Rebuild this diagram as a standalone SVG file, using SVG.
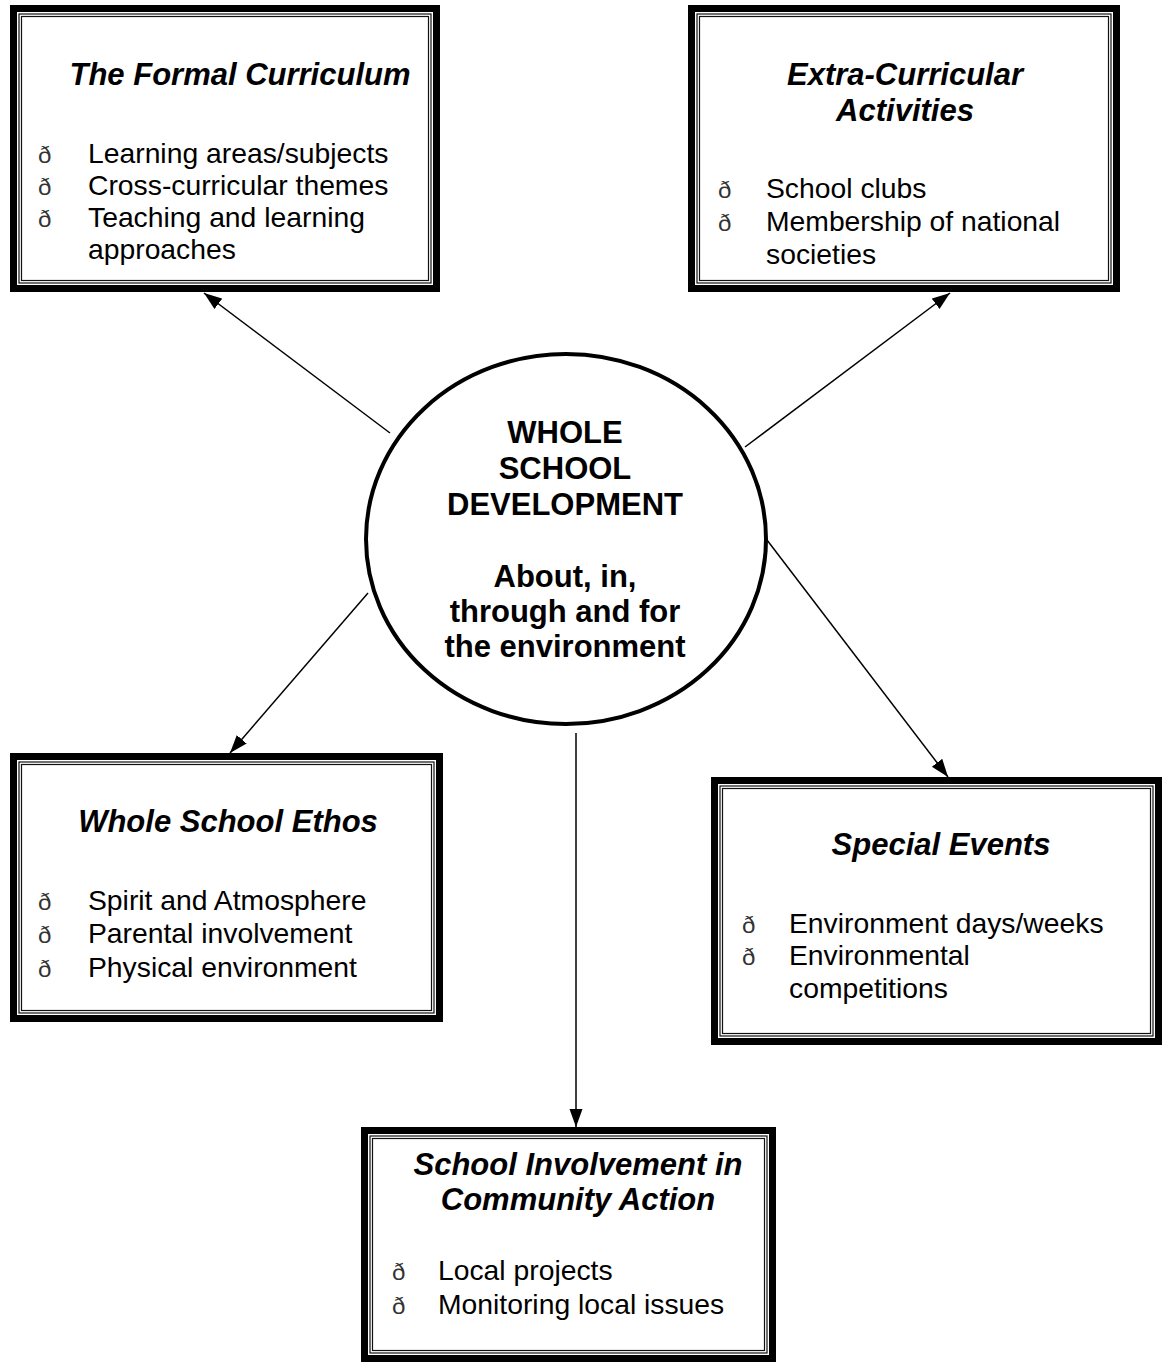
<svg xmlns="http://www.w3.org/2000/svg" width="1163" height="1365" viewBox="0 0 1163 1365">
  <style>
    .thick { fill: none; stroke: #000; stroke-width: 7; }
    .thin { fill: none; stroke: #111; stroke-width: 1.2; }
    .head { font-family: "Liberation Sans", Arial, sans-serif; font-size: 31px; font-weight: bold; font-style: italic; text-anchor: middle; fill: #000; }
    .item { font-family: "Liberation Sans", Arial, sans-serif; font-size: 28.3px; fill: #000; }
    .bul { font-family: "Liberation Sans", Arial, sans-serif; font-size: 24px; fill: #333; }
    .hub { font-family: "Liberation Sans", Arial, sans-serif; font-size: 31px; font-weight: bold; text-anchor: middle; fill: #000; }
    .conn { stroke: #000; stroke-width: 1.5; fill: none; marker-end: url(#arrow); }
  </style>
  <defs>
    <marker id="arrow" markerUnits="userSpaceOnUse" markerWidth="20" markerHeight="14" refX="18" refY="6.5" orient="auto">
      <path d="M0,0 L18,6.5 L0,13 z" fill="#000"/>
    </marker>
  </defs>
  <rect width="1163" height="1365" fill="#fff"/>

  <!-- connectors -->
  <g id="connectors">
    <line class="conn" x1="390" y1="433" x2="204" y2="293"/>
    <line class="conn" x1="745" y1="447" x2="950" y2="293"/>
    <line class="conn" x1="368" y1="593" x2="230" y2="753"/>
    <line class="conn" x1="767" y1="540" x2="948" y2="777"/>
    <line class="conn" x1="576" y1="733" x2="576" y2="1127"/>
  </g>

  <!-- central hub -->
  <g id="hub">
    <ellipse cx="566" cy="539" rx="200" ry="185" fill="#fff" stroke="#000" stroke-width="4"/>
    <text class="hub" x="565" y="443">WHOLE</text>
    <text class="hub" x="565" y="479">SCHOOL</text>
    <text class="hub" x="565" y="515">DEVELOPMENT</text>
    <text class="hub" x="565" y="587">About, in,</text>
    <text class="hub" x="565" y="622">through and for</text>
    <text class="hub" x="565" y="657">the environment</text>
  </g>

  <!-- The Formal Curriculum -->
  <g id="formal-curriculum">
    <rect x="10" y="5" width="430" height="287" fill="#fff"/>
    <rect class="thick" x="13.5" y="8.5" width="423" height="280"/>
    <rect class="thin" x="19" y="14" width="412" height="269"/>
    <rect class="thin" x="21.5" y="16.5" width="407" height="264"/>
    <text class="head" x="240" y="85">The Formal Curriculum</text>
    <text class="bul" x="38" y="163">ð</text><text class="item" x="88" y="163">Learning areas/subjects</text>
    <text class="bul" x="38" y="195">ð</text><text class="item" x="88" y="195">Cross-curricular themes</text>
    <text class="bul" x="38" y="227">ð</text><text class="item" x="88" y="227">Teaching and learning</text>
    <text class="item" x="88" y="259">approaches</text>
  </g>

  <!-- Extra-Curricular Activities -->
  <g id="extra-curricular">
    <rect x="688" y="5" width="432" height="287" fill="#fff"/>
    <rect class="thick" x="691.5" y="8.5" width="425" height="280"/>
    <rect class="thin" x="697" y="14" width="414" height="269"/>
    <rect class="thin" x="699.5" y="16.5" width="409" height="264"/>
    <text class="head" x="905" y="85">Extra-Curricular</text>
    <text class="head" x="905" y="121">Activities</text>
    <text class="bul" x="718" y="198">ð</text><text class="item" x="766" y="198">School clubs</text>
    <text class="bul" x="718" y="231">ð</text><text class="item" x="766" y="231">Membership of national</text>
    <text class="item" x="766" y="264">societies</text>
  </g>

  <!-- Whole School Ethos -->
  <g id="school-ethos">
    <rect x="10" y="753" width="433" height="269" fill="#fff"/>
    <rect class="thick" x="13.5" y="756.5" width="426" height="262"/>
    <rect class="thin" x="19" y="762" width="415" height="251"/>
    <rect class="thin" x="21.5" y="764.5" width="410" height="246"/>
    <text class="head" x="228" y="832">Whole School Ethos</text>
    <text class="bul" x="38" y="910">ð</text><text class="item" x="88" y="910">Spirit and Atmosphere</text>
    <text class="bul" x="38" y="943">ð</text><text class="item" x="88" y="943">Parental involvement</text>
    <text class="bul" x="38" y="977">ð</text><text class="item" x="88" y="977">Physical environment</text>
  </g>

  <!-- Special Events -->
  <g id="special-events">
    <rect x="711" y="777" width="451" height="268" fill="#fff"/>
    <rect class="thick" x="714.5" y="780.5" width="444" height="261"/>
    <rect class="thin" x="720" y="786" width="433" height="250"/>
    <rect class="thin" x="722.5" y="788.5" width="428" height="245"/>
    <text class="head" x="941" y="855">Special Events</text>
    <text class="bul" x="742" y="933">ð</text><text class="item" x="789" y="933">Environment days/weeks</text>
    <text class="bul" x="742" y="965">ð</text><text class="item" x="789" y="965">Environmental</text>
    <text class="item" x="789" y="998">competitions</text>
  </g>

  <!-- School Involvement in Community Action -->
  <g id="community-action">
    <rect x="361" y="1127" width="415" height="235" fill="#fff"/>
    <rect class="thick" x="364.5" y="1130.5" width="408" height="228"/>
    <rect class="thin" x="370" y="1136" width="397" height="217"/>
    <rect class="thin" x="372.5" y="1138.5" width="392" height="212"/>
    <text class="head" x="578" y="1175">School Involvement in</text>
    <text class="head" x="578" y="1210">Community Action</text>
    <text class="bul" x="392" y="1280">ð</text><text class="item" x="438" y="1280">Local projects</text>
    <text class="bul" x="392" y="1314">ð</text><text class="item" x="438" y="1314">Monitoring local issues</text>
  </g>
</svg>
